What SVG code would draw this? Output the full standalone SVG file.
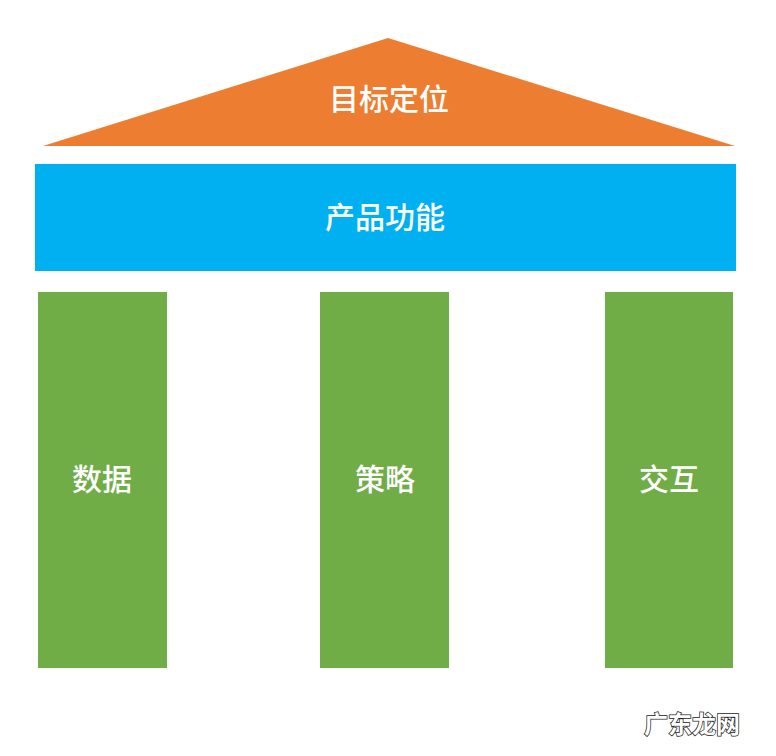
<svg xmlns="http://www.w3.org/2000/svg" width="776" height="756" viewBox="0 0 776 756">
<style>
.t{font-family:"Noto Sans CJK SC","Noto Sans",sans-serif;fill:#fff;text-anchor:middle;dominant-baseline:central;font-weight:500}
.l{font-size:30px}
.col{fill:#70AD47}
</style>
<rect width="776" height="756" fill="#fff"/>
<g id="roof"><polygon points="388,38 735,146 43,146" fill="#ED7D31"/><text class="t l" x="389" y="97">目标定位</text></g>
<g id="beam"><rect x="35" y="164" width="701" height="107" fill="#00B0F0"/><text class="t l" x="385" y="215">产品功能</text></g>
<g id="pillar1"><rect class="col" x="38" y="292" width="129" height="376"/><text class="t l" x="102" y="477">数据</text></g>
<g id="pillar2"><rect class="col" x="320" y="292" width="129" height="376"/><text class="t l" x="385" y="477">策略</text></g>
<g id="pillar3"><rect class="col" x="605" y="292" width="128" height="376"/><text class="t l" x="669" y="477">交互</text></g>
<g id="connectors"></g>
<g id="watermark"><text x="692" y="722" font-family="Noto Sans CJK SC,sans-serif" font-size="24" font-weight="bold" fill="#fff" stroke="#222" stroke-width="1.5" paint-order="stroke" text-anchor="middle" dominant-baseline="central">广东龙网</text></g>
</svg>
